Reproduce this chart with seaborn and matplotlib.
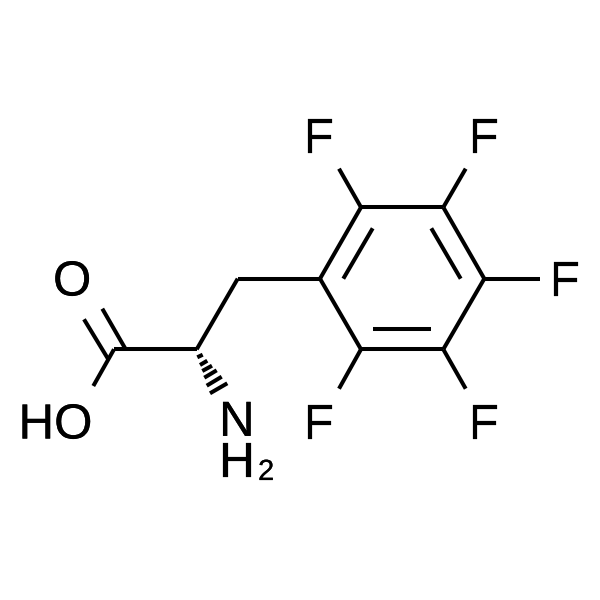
import matplotlib
matplotlib.use("Agg")
import matplotlib.pyplot as plt
import matplotlib.patheffects as pe
import pandas as pd
import seaborn as sns

# Skeleton points, in picture units (x to the right, y downwards)
point_x = {"c1": 361, "c2": 443.3, "c3": 484.3, "c4": 443.3, "c5": 361, "c6": 320,
           "ch2": 237.7, "ca": 196.7, "cooh": 114, "oh_end": 93.3,
           "f1": 339, "f2": 465.7, "f3": 539.7, "f4": 465.7, "f5": 339,
           "in1a": 372.7, "in1b": 343.3, "in2a": 431.3, "in2b": 460.7, "in3a": 372.7, "in3b": 431,
           "o1a": 84, "o1b": 108.3, "o2a": 102.3, "o2b": 125.7}
point_y = {"c1": 207.3, "c2": 207.3, "c3": 278.7, "c4": 349.3, "c5": 349.3, "c6": 278.7,
           "ch2": 278.7, "ca": 349.3, "cooh": 349.3, "oh_end": 386,
           "f1": 168.7, "f2": 168.7, "f3": 278.7, "f4": 388.7, "f5": 388.7,
           "in1a": 228.3, "in1b": 278.7, "in2a": 228.3, "in2b": 278.7, "in3a": 329.3, "in3b": 329.3,
           "o1a": 319.3, "o1b": 359.3, "o2a": 308.7, "o2b": 349.3}
bonds = [("c1", "c2"), ("c2", "c3"), ("c3", "c4"), ("c4", "c5"), ("c5", "c6"), ("c6", "c1"),
         ("c6", "ch2"), ("ch2", "ca"), ("ca", "cooh"), ("cooh", "oh_end"),
         ("c1", "f1"), ("c2", "f2"), ("c3", "f3"), ("c4", "f4"), ("c5", "f5"),
         ("in1a", "in1b"), ("in2a", "in2b"), ("in3a", "in3b"),
         ("o1a", "o1b"), ("o2a", "o2b")]

# Hashed wedge strokes towards the amino group
hash_x1 = [197.3, 200.0, 202.3, 204.3, 206.7, 210.0]
hash_y1 = [357.3, 365.0, 371.0, 377.7, 385.7, 393.3]
hash_x2 = [202.7, 207.3, 212.0, 216.7, 221.7, 227.3]
hash_y2 = [354.7, 360.7, 365.7, 370.3, 376.7, 383.3]

# Atom labels: text, left edge, baseline
label_text = ["F", "F", "F", "F", "F", "O", "HO", "N\nH", "2"]
label_x = [303.5, 468.5, 549.5, 303.5, 468.5, 53, 18.5, 219, 258]
label_y = [153, 153, 296, 439, 439, 295.5, 438.5, 477, 480]
label_size = [35.5, 35.5, 35.5, 35.5, 35.5, 35.5, 35.5, 35.5, 21]

sns.set_theme(style="white")
plt.rcParams["font.family"] = ["Liberation Sans", "DejaVu Sans"]

rows = []
for i, (a, b) in enumerate(bonds):
    rows.append({"bond": i, "x": point_x[a], "y": point_y[a]})
    rows.append({"bond": i, "x": point_x[b], "y": point_y[b]})
bond_df = pd.DataFrame(rows)

hash_rows = []
for i in range(len(hash_x1)):
    hash_rows.append({"bond": i, "x": hash_x1[i], "y": hash_y1[i]})
    hash_rows.append({"bond": i, "x": hash_x2[i], "y": hash_y2[i]})
hash_df = pd.DataFrame(hash_rows)

fig = plt.figure(figsize=(6, 6), dpi=100, facecolor="white")
ax = fig.add_axes([0, 0, 1, 1])
sns.lineplot(data=bond_df, x="x", y="y", units="bond", estimator=None, sort=False,
             color="black", linewidth=2.9, solid_capstyle="butt", solid_joinstyle="miter", ax=ax)
sns.lineplot(data=hash_df, x="x", y="y", units="bond", estimator=None, sort=False,
             color="black", linewidth=2.9, solid_capstyle="butt", ax=ax)
for t, x, y, s in zip(label_text, label_x, label_y, label_size):
    ax.text(x, y, t, fontsize=s, color="black", ha="left", va="baseline", linespacing=0.89,
            path_effects=[pe.withStroke(linewidth=0.15, foreground="black")])
ax.set_xlim(0, 600)
ax.set_ylim(600, 0)
ax.axis("off")
fig.savefig("out.png", dpi=100, facecolor="white")
